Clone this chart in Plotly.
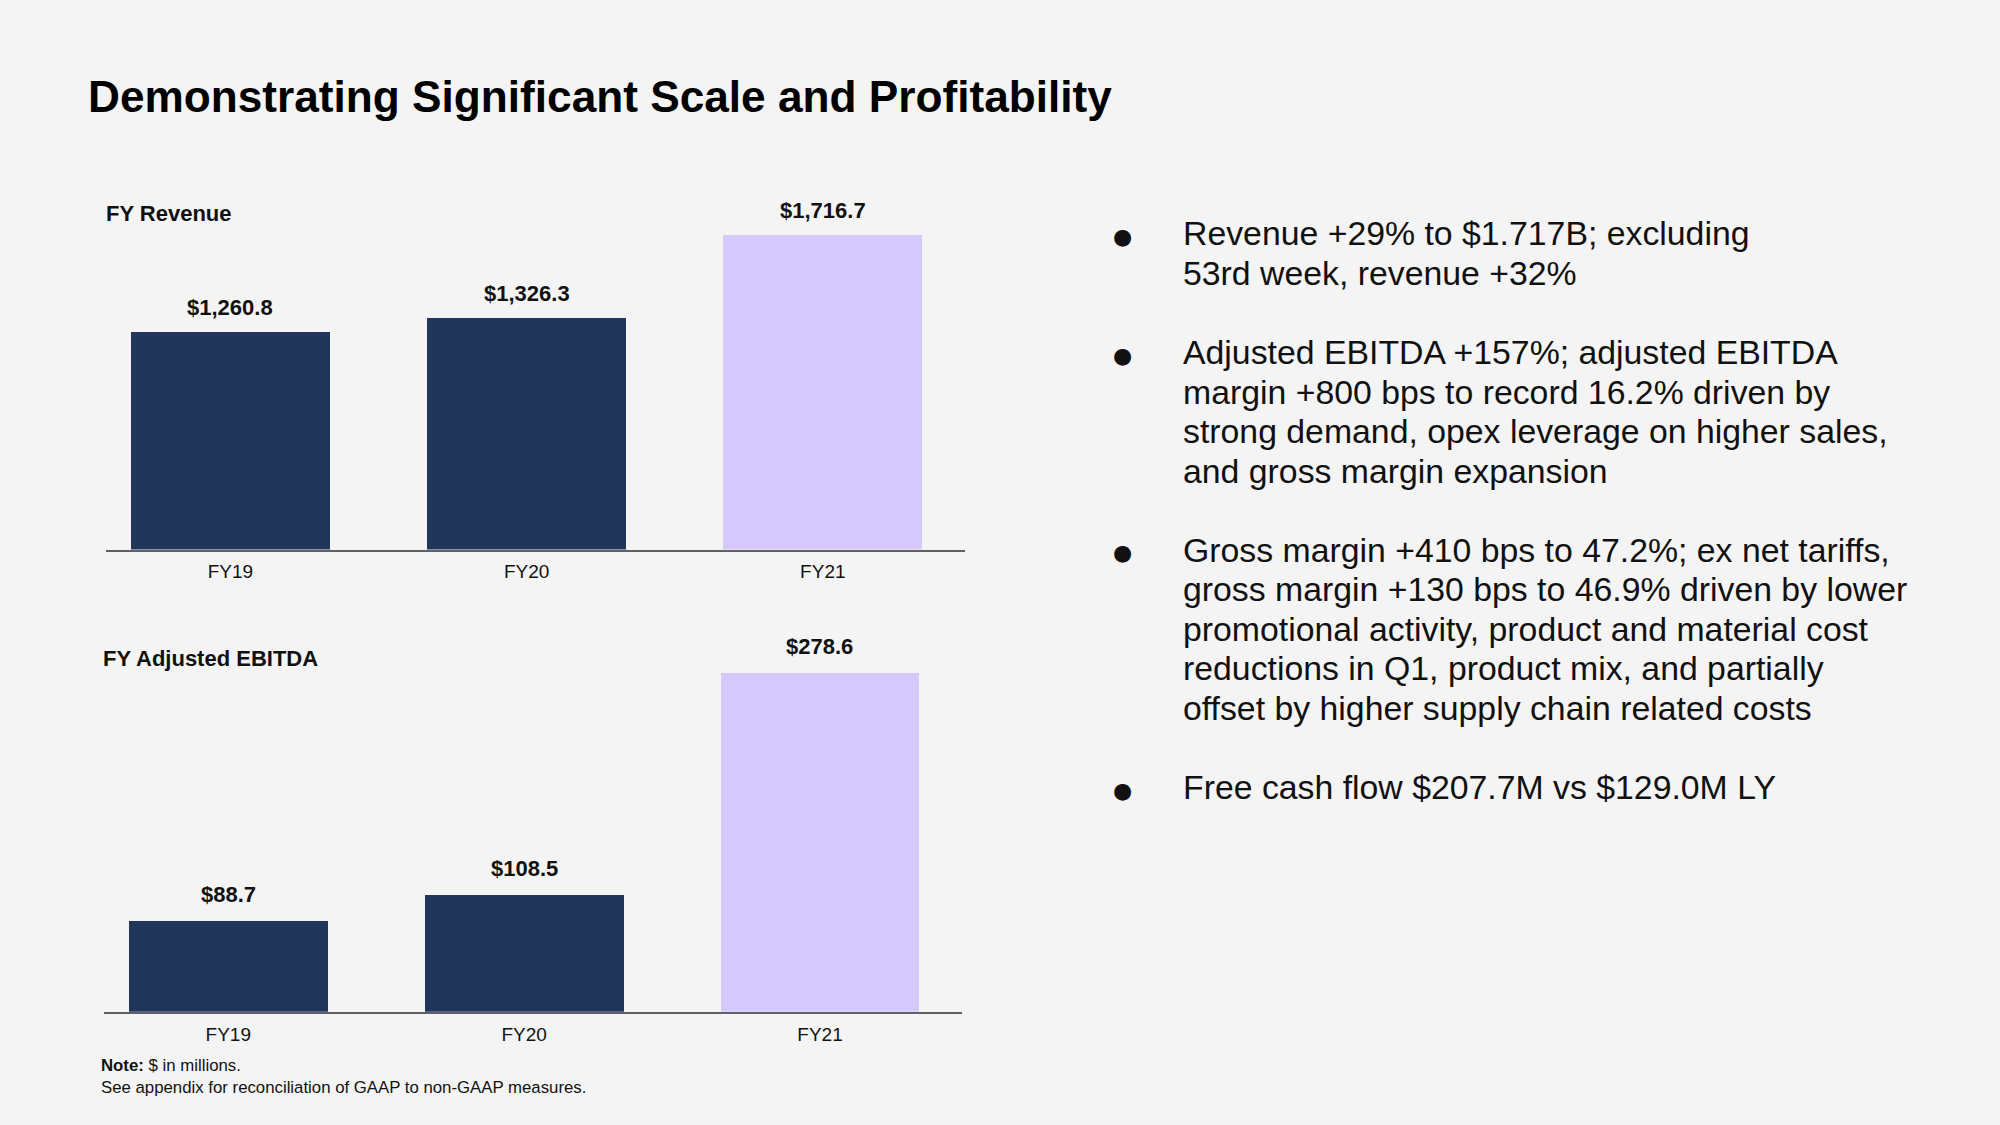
import plotly.graph_objects as go

# ---- data ----
categories = ["FY19", "FY20", "FY21"]
revenue = [1260.8, 1326.3, 1716.7]
ebitda = [88.7, 108.5, 278.6]
revenue_labels = ["$1,260.8", "$1,326.3", "$1,716.7"]
ebitda_labels = ["$88.7", "$108.5", "$278.6"]
bar_colors = ["#22365c", "#22365c", "#d5c8fb"]

title_text = "Demonstrating Significant Scale and Profitability"
revenue_title = "FY Revenue"
ebitda_title = "FY Adjusted EBITDA"
note_lines = ["<b>Note:</b> $ in millions.",
              "See appendix for reconciliation of GAAP to non-GAAP measures."]
bullets = [
    ["Revenue +29% to $1.717B; excluding",
     "53rd week, revenue +32%"],
    ["Adjusted EBITDA +157%; adjusted EBITDA",
     "margin +800 bps to record 16.2% driven by",
     "strong demand, opex leverage on higher sales,",
     "and gross margin expansion"],
    ["Gross margin +410 bps to 47.2%; ex net tariffs,",
     "gross margin +130 bps to 46.9% driven by lower",
     "promotional activity, product and material cost",
     "reductions in Q1, product mix, and partially",
     "offset by higher supply chain related costs"],
    ["Free cash flow $207.7M vs $129.0M LY"],
]

W, H = 2000, 1125
BG = "#f4f4f4"
FONT = "Liberation Sans, Arial, Helvetica, sans-serif"

def py(px):
    return 1 - px / H

def pxx(px):
    return px / W

fig = go.Figure()

fig.add_trace(go.Bar(x=categories, y=revenue, marker=dict(color=bar_colors, line=dict(width=0)),
                     width=0.672, xaxis="x", yaxis="y", hoverinfo="skip", showlegend=False))
fig.add_trace(go.Bar(x=categories, y=ebitda, marker=dict(color=bar_colors, line=dict(width=0)),
                     width=0.672, xaxis="x2", yaxis="y2", hoverinfo="skip", showlegend=False))

xcommon = dict(type="category", range=[-0.42, 2.48], showgrid=False, zeroline=False,
               showline=True, linecolor="#5f5f66", linewidth=2, ticks="",
               tickfont=dict(family=FONT, size=19, color="#111111"),
               ticklabelstandoff=4, fixedrange=True)
ycommon = dict(showgrid=False, zeroline=False, showline=False, showticklabels=False,
               ticks="", fixedrange=True)

rev_base_px, rev_top_px = 549.5, 200.0
eb_base_px, eb_top_px = 1011.7, 640.0
rev_k = 0.2128
eb_k = 1.3065
rev_lo, eb_lo = 240.0, 19.0

fig.update_layout(
    width=W, height=H,
    paper_bgcolor=BG, plot_bgcolor=BG,
    margin=dict(l=0, r=0, t=0, b=0),
    bargap=0,
    xaxis=dict(xcommon, domain=[pxx(106), pxx(965)], anchor="y"),
    yaxis=dict(ycommon, domain=[py(rev_base_px), py(rev_top_px)], anchor="x",
               range=[rev_lo, rev_lo + (rev_base_px - rev_top_px) / rev_k]),
    xaxis2=dict(xcommon, domain=[pxx(104), pxx(962)], anchor="y2"),
    yaxis2=dict(ycommon, domain=[py(eb_base_px), py(eb_top_px)], anchor="x2",
                range=[eb_lo, eb_lo + (eb_base_px - eb_top_px) / eb_k]),
)

ann = []
# value labels
for c, v, t in zip(categories, revenue, revenue_labels):
    ann.append(dict(x=c, y=v, xref="x", yref="y", text=f"<b>{t}</b>", showarrow=False,
                    yanchor="middle", yshift=25, font=dict(family=FONT, size=22, color="#111111")))
for c, v, t in zip(categories, ebitda, ebitda_labels):
    ann.append(dict(x=c, y=v, xref="x2", yref="y2", text=f"<b>{t}</b>", showarrow=False,
                    yanchor="middle", yshift=26, font=dict(family=FONT, size=22, color="#111111")))

# titles
ann.append(dict(x=pxx(86), y=py(96), xref="paper", yref="paper", text=f"<b>{title_text}</b>",
                showarrow=False, xanchor="left", yanchor="middle",
                font=dict(family=FONT, size=44.2, color="#000000")))
ann.append(dict(x=pxx(104), y=py(213), xref="paper", yref="paper", text=f"<b>{revenue_title}</b>",
                showarrow=False, xanchor="left", yanchor="middle",
                font=dict(family=FONT, size=22, color="#111111")))
ann.append(dict(x=pxx(101), y=py(658), xref="paper", yref="paper", text=f"<b>{ebitda_title}</b>",
                showarrow=False, xanchor="left", yanchor="middle",
                font=dict(family=FONT, size=22, color="#111111")))

# notes
for i, line in enumerate(note_lines):
    ann.append(dict(x=pxx(99), y=py(1065 + i * 22), xref="paper", yref="paper", text=line,
                    showarrow=False, xanchor="left", yanchor="middle",
                    font=dict(family=FONT, size=16.8, color="#111111")))

# bullets
y0, dy = 233.4, 39.55
idx = 0
for b in bullets:
    ann.append(dict(x=pxx(1122), y=py(y0 + idx * dy + 3), xref="paper", yref="paper", text="●",
                    showarrow=False, xanchor="center", yanchor="middle",
                    font=dict(family="DejaVu Sans", size=22, color="#111111")))
    for line in b:
        ann.append(dict(x=pxx(1181), y=py(y0 + idx * dy), xref="paper", yref="paper", text=line,
                        showarrow=False, xanchor="left", yanchor="middle",
                        font=dict(family=FONT, size=33.8, color="#111111")))
        idx += 1
    idx += 1

fig.update_layout(annotations=ann)
fig.write_html("out.html",
               config={"displayModeBar": False, "staticPlot": True},
               post_script="document.body.style.margin='0';document.body.style.padding='0';"
                           "document.body.style.background='#f4f4f4';")
